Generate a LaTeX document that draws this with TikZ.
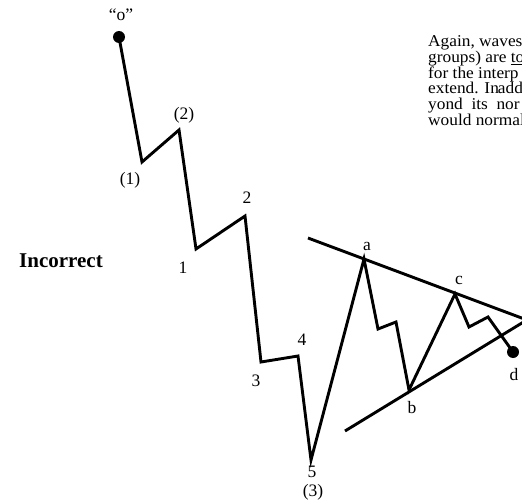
\documentclass[tikz,border=0pt]{standalone}
\usepackage{fontspec}
\setmainfont{Liberation Serif}
\newfontfamily\parafont[FakeStretch=1.05]{Liberation Serif}
\begin{document}
\begin{tikzpicture}[x=1pt,y=-1pt,
  wave/.style={line width=2.9pt,line join=miter,line cap=butt},
  trend/.style={line width=2.9pt},
  lbl/.style={font=\fontsize{17.5}{17.5}\selectfont,inner sep=0pt},
  para/.style={font=\parafont\fontsize{16.5}{16.5}\selectfont,inner sep=0pt,anchor=base west},
  dot/.style={circle,fill=black,inner sep=0pt,minimum size=12pt}]
\useasboundingbox (0,0) rectangle (522,500);
\begin{scope}
\clip (0,0) rectangle (522,500);
% paragraph fragment
\node[para] (t1) at (428,46.7) {Again, waves};
\node[para] (t2) at (428,62.5) {groups) are \underline{to}};
\node[para] (t3) at (428,78.2) {for the interp};
\node[para] (t4) at (428,94) {extend. In\kern-1pt add};
\node[para] (t5) at (428,109.7) {yond\ \ its\ \ nor};
\node[para] (t6) at (428,125.4) {would normal};
% title
\node[font=\fontsize{21}{21}\selectfont\bfseries,inner sep=0pt] (inc) at (61,261) {Incorrect};
% wave points
\coordinate (p0) at (119,37);
\coordinate (p1) at (142,162);
\coordinate (p2) at (179,130);
\coordinate (q1) at (196,249);
\coordinate (q2) at (245,216);
\coordinate (q3) at (261,362);
\coordinate (q4) at (298,356);
\coordinate (q5) at (311,460);
\coordinate (a) at (364,259);
\coordinate (a1) at (378,329);
\coordinate (a2) at (396,322);
\coordinate (b) at (409,390);
\coordinate (c) at (455,294);
\coordinate (c1) at (469,327);
\coordinate (c2) at (488,317);
\coordinate (d) at (513,352);
\coordinate (u0) at (308,238);
\coordinate (u1) at (535,323);
\coordinate (l0) at (345,431);
\coordinate (l1) at (535,315);
% trend lines
\draw[trend] (u0) -- (u1);
\draw[trend] (l0) -- (l1);
% wave path
\draw[wave] (p0) -- (p1) -- (p2) -- (q1) -- (q2) -- (q3) -- (q4) -- (q5)
  -- (a) -- (a1) -- (a2) -- (b) -- (c) -- (c1) -- (c2) -- (d);
\node[dot] (d0) at (p0) {};
\node[dot] (dd) at (d) {};
% labels
\node[lbl] (lo) at (121,15) {“o”};
\node[lbl] (l1l) at (130,180) {(1)};
\node[lbl] (l2l) at (184,115) {(2)};
\node[lbl] (n1) at (183,268) {1};
\node[lbl] (n2) at (247,198) {2};
\node[lbl] (n3) at (256,381) {3};
\node[lbl] (n4) at (302,340) {4};
\node[lbl] (n5) at (312,472) {5};
\node[lbl] (n53) at (313,492) {(3)};
\node[lbl] (la) at (367,246) {a};
\node[lbl] (lb) at (412,408) {b};
\node[lbl] (lc) at (459,280) {c};
\node[lbl] (ld) at (514,375) {d};
\end{scope}
\end{tikzpicture}
\end{document}
